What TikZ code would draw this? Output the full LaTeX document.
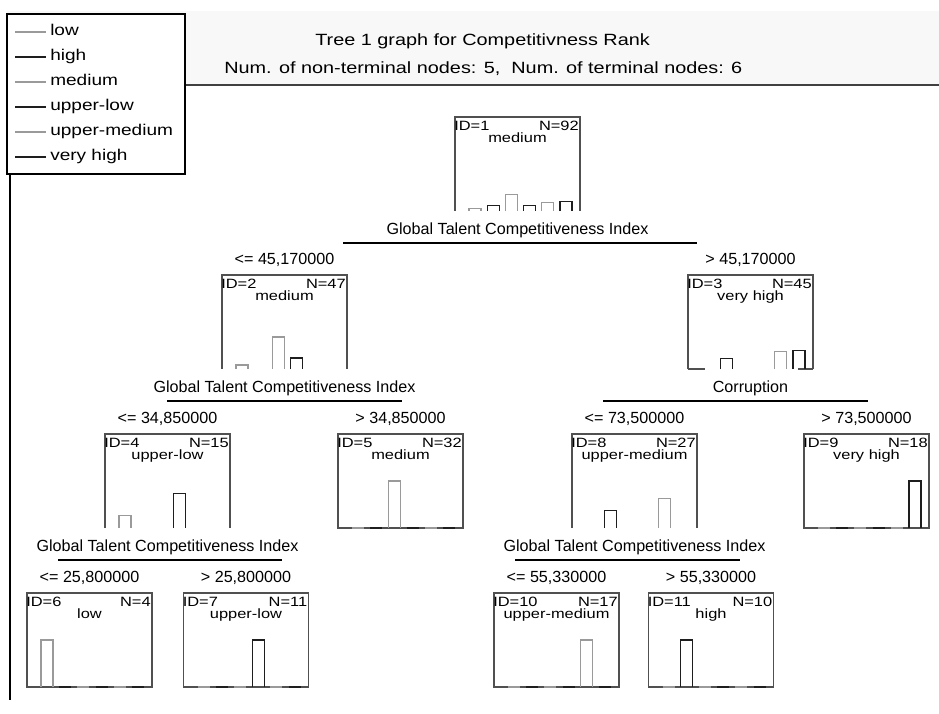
\documentclass[tikz,border=0pt]{standalone}
\usepackage{fontspec}
\setmainfont{Liberation Sans}
\newfontfamily\wfont{Liberation Sans}[FakeStretch=1.22]
\usetikzlibrary{calc}
\definecolor{bargray}{HTML}{9A9A9A}
\definecolor{bardark}{HTML}{1E1E1E}
\definecolor{boxline}{HTML}{505050}
\definecolor{headbg}{HTML}{F8F8F8}
\newcommand\histo[4]{%
  \foreach \c [count=\i from 0] in {#3}{%
    \pgfmathsetmacro\hh{47*\c/#2}%
    \pgfmathsetmacro\xx{14+18.2*\i}%
    \ifodd\i \def\bc{bardark}\else\def\bc{bargray}\fi
    \ifnum\c>0
      \draw[\bc,bar] ($(#1.south west)+(\xx,0)$) -- ++(0,-\hh) -- ++(12,0) -- ++(0,\hh);
    \else
      \ifnum#4=1 \draw[\bc,bar] ($(#1.south west)+(\xx,0)$) -- ++(12,0);\fi
    \fi
  }}
\newcommand\nodetext[4]{%
  \node[ntxt, anchor=base west] (#1id) at ($(#1.north west)+(-1,13)$) {ID=#2};
  \node[ntxt, anchor=base east] (#1nn) at ($(#1.north east)+(-1,13)$) {N=#3};
  \node[ntxt, anchor=base] (#1cl) at ($(#1.north)+(0,25)$) {#4};}
\begin{document}
\begin{tikzpicture}[x=0.75pt,y=-0.75pt,
  tbox/.style={draw=none, minimum width=93.75pt, minimum height=70.5pt, inner sep=0pt, outer sep=0pt},
  ntxt/.style={font=\wfont\fontsize{10.1}{12}\selectfont, inner sep=0pt},
  stxt/.style={font=\fontsize{12.1}{14}\selectfont, inner sep=0pt, anchor=base},
  htxt/.style={font=\wfont\fontsize{12.2}{15}\selectfont, inner sep=0pt, anchor=base west},
  ltxt/.style={font=\wfont\fontsize{11.7}{14}\selectfont, inner sep=0pt, anchor=mid west},
  bar/.style={line width=0.8pt},
  frame/.style={draw=boxline, line width=0.8pt},
  split/.style={draw=black, line width=0.8pt}]
\useasboundingbox (0,0) rectangle (939,714);
\fill[white] (0,0) rectangle (939,714);
% header
\fill[headbg] (7,11) rectangle (939,85);
\draw[draw=boxline!80!black, line width=1.3pt] (185,85) -- (939,85);
\node[htxt] (title) at (315,45) {Tree 1 graph for Competitivness Rank};
\node[htxt] (sub) at (224,73) {Num. of non-terminal nodes: 5,\ \ Num. of terminal nodes: 6};
% legend
\draw[fill=white, draw=black, line width=0.8pt] (7,14) rectangle (185,174);
\foreach \t/\y/\col [count=\k] in {low/32/bargray, high/57/bardark, medium/82/bargray, upper-low/107/bardark, upper-medium/132/bargray, very high/157/bardark}{
  \draw[\col, line width=0.8pt] (15,\y) -- (46,\y);
  \node[ltxt] (leg\k) at (50,\y) {\t};
}
\draw[black, line width=0.8pt] (10,174) -- (10,700);
% tree nodes (centres; boxes 125 x 94 px)
\node[tbox] (n1) at (517.5,164) {};
\node[tbox] (n2) at (284.5,322) {};
\node[tbox] (n3) at (750.5,322) {};
\node[tbox] (n4) at (167.5,481) {};
\node[tbox] (n5) at (400.5,481) {};
\node[tbox] (n8) at (634.5,481) {};
\node[tbox] (n9) at (866.5,481) {};
\node[tbox] (n6) at (89.5,640) {};
\node[tbox] (n7) at (246,640) {};
\node[tbox] (n10) at (556.5,640) {};
\node[tbox] (n11) at (711,640) {};
% internal frames (open bottom)
\foreach \n in {n1,n2,n3,n4,n8}{
  \draw[frame] (\n.south west) -- (\n.north west) -- (\n.north east) -- (\n.south east);
}
\draw[frame] (n3.south west) -- ++(17,0);
\draw[frame] ($(n3.south east)+(-15,0)$) -- (n3.south east);
% terminal frames
\foreach \n in {n5,n9,n6,n7,n10,n11}{
  \draw[frame] (\n.south west) rectangle (\n.north east);
}
% histograms
\histo{n1}{92}{4,10,32,11,17,18}{0}
\histo{n2}{47}{4,0,32,11,0,0}{0}
\histo{n3}{45}{0,10,0,0,17,18}{0}
\histo{n4}{15}{4,0,0,11,0,0}{0}
\histo{n8}{27}{0,10,0,0,17,0}{0}
\histo{n5}{32}{0,0,32,0,0,0}{1}
\histo{n9}{18}{0,0,0,0,0,18}{1}
\histo{n6}{4}{4,0,0,0,0,0}{1}
\histo{n7}{11}{0,0,0,11,0,0}{1}
\histo{n10}{17}{0,0,0,0,17,0}{1}
\histo{n11}{10}{0,10,0,0,0,0}{1}
% node texts
\nodetext{n1}{1}{92}{medium}
\nodetext{n2}{2}{47}{medium}
\nodetext{n3}{3}{45}{very high}
\nodetext{n4}{4}{15}{upper-low}
\nodetext{n5}{5}{32}{medium}
\nodetext{n8}{8}{27}{upper-medium}
\nodetext{n9}{9}{18}{very high}
\nodetext{n6}{6}{4}{low}
\nodetext{n7}{7}{11}{upper-low}
\nodetext{n10}{10}{17}{upper-medium}
\nodetext{n11}{11}{10}{high}
% splits
\node[stxt] (s1) at ($(n1.south)+(0,23)$) {Global Talent Competitiveness Index};
\coordinate (s1a) at (343,243); \coordinate (s1b) at (697,243);
\draw[split] (s1a) -- (s1b);
\node[stxt] (b2) at ($(n2.north)+(0,-11)$) {<= 45,170000};
\node[stxt] (b3) at ($(n3.north)+(0,-11)$) {> 45,170000};

\node[stxt] (s2) at ($(n2.south)+(0,23)$) {Global Talent Competitiveness Index};
\coordinate (s2a) at (167,401); \coordinate (s2b) at (402,401);
\draw[split] (s2a) -- (s2b);
\node[stxt] (b4) at ($(n4.north)+(0,-11)$) {<= 34,850000};
\node[stxt] (b5) at ($(n5.north)+(0,-11)$) {> 34,850000};

\node[stxt] (s3) at ($(n3.south)+(0,23)$) {Corruption};
\coordinate (s3a) at (603,401); \coordinate (s3b) at (868,401);
\draw[split] (s3a) -- (s3b);
\node[stxt] (b8) at ($(n8.north)+(0,-11)$) {<= 73,500000};
\node[stxt] (b9) at ($(n9.north)+(0,-11)$) {> 73,500000};

\node[stxt] (s4) at ($(n4.south)+(0,23)$) {Global Talent Competitiveness Index};
\coordinate (s4a) at (58,560); \coordinate (s4b) at (282,560);
\draw[split] (s4a) -- (s4b);
\node[stxt] (b6) at ($(n6.north)+(0,-11)$) {<= 25,800000};
\node[stxt] (b7) at ($(n7.north)+(0,-11)$) {> 25,800000};

\node[stxt] (s8) at ($(n8.south)+(0,23)$) {Global Talent Competitiveness Index};
\coordinate (s8a) at (515,560); \coordinate (s8b) at (740,560);
\draw[split] (s8a) -- (s8b);
\node[stxt] (b10) at ($(n10.north)+(0,-11)$) {<= 55,330000};
\node[stxt] (b11) at ($(n11.north)+(0,-11)$) {> 55,330000};
\end{tikzpicture}
\end{document}
